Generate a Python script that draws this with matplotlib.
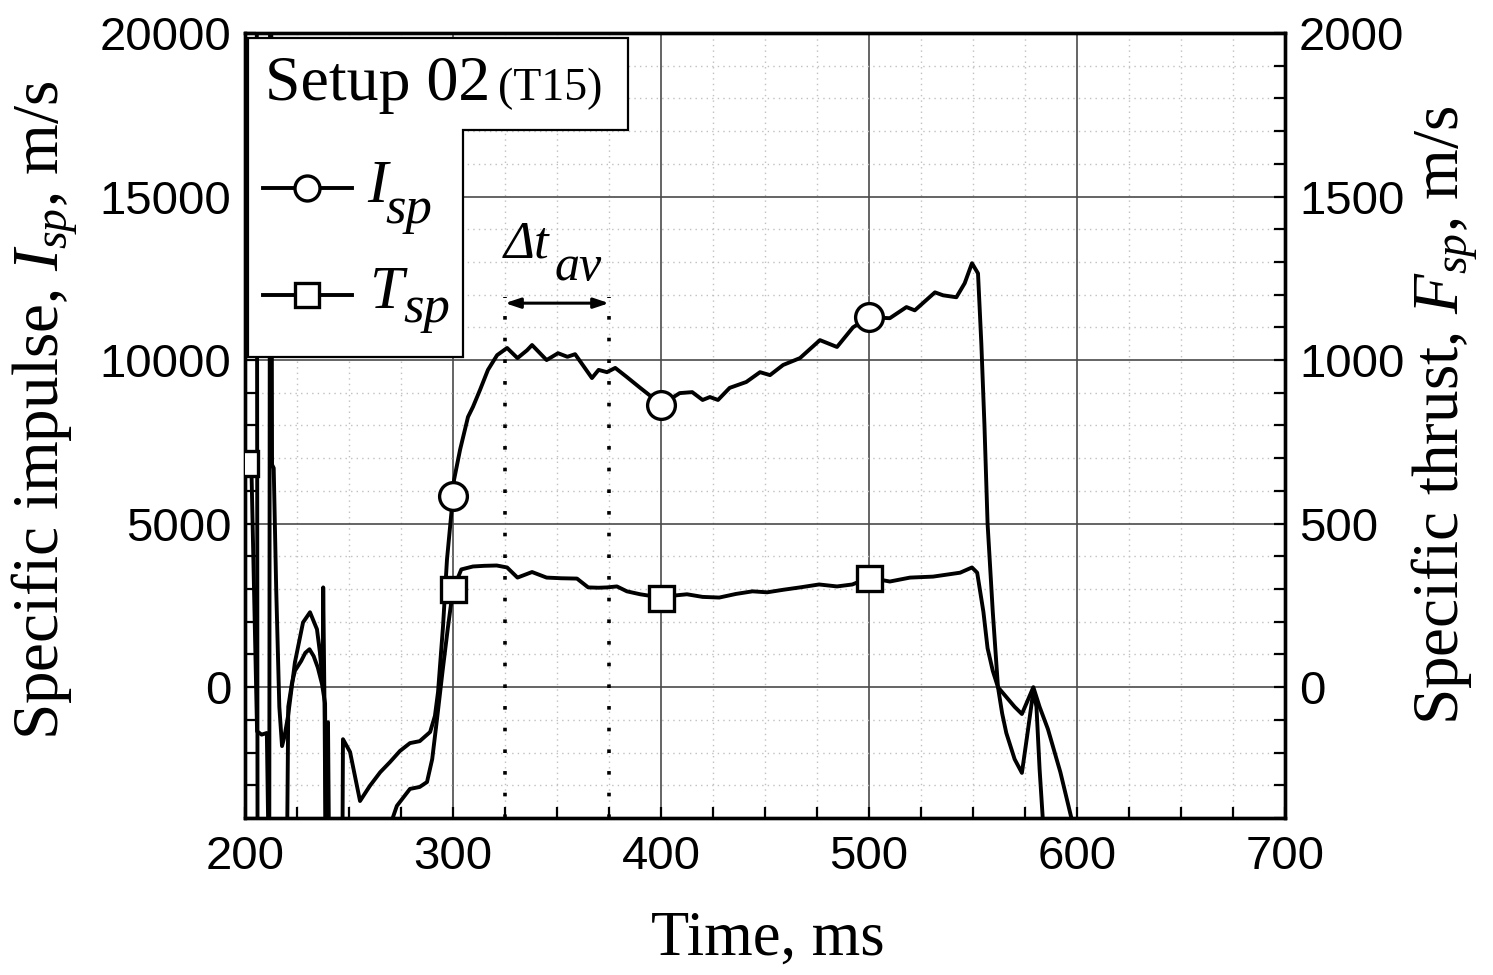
import matplotlib

matplotlib.use("Agg")
import matplotlib.pyplot as plt
from matplotlib.patches import Polygon
from matplotlib.lines import Line2D
from matplotlib.ticker import MultipleLocator

plt.rcParams["font.family"] = ["Liberation Serif", "DejaVu Serif"]
plt.rcParams["mathtext.fontset"] = "custom"
plt.rcParams["mathtext.rm"] = "Liberation Serif"
plt.rcParams["mathtext.it"] = "Liberation Serif:italic"

# specific impulse, m/s (left axis)
isp_time = [200, 205.6, 206.1, 211.6, 212.1, 212.5, 213, 213.8, 215, 216.5, 217.8, 219, 220.7,
            224, 227.9, 231.25, 234.6, 236, 237.3, 237.6, 238.3, 239, 239.9, 240.8, 246.6, 247.1,
            250.5, 255.3, 260, 265, 269.7, 274.5, 279.3, 284, 289, 291.3, 292.8, 295.2, 297.1,
            300, 300.5, 303.4, 307.2, 309.6, 313, 316.8, 321.2, 326, 331, 335.6, 338, 345, 350.5,
            355, 358.7, 366.8, 370, 374, 378, 383.6, 390, 395, 400, 409, 415, 420, 423.5, 427.4,
            433, 441, 447.6, 452.4, 458.7, 466.8, 476.4, 484.6, 492.3, 500, 510, 518, 522, 531.7,
            535.6, 542, 546, 549.5, 552.4, 554, 555.5, 557, 559.5, 562, 564, 566, 570, 573.5, 576,
            579, 580.5, 582, 583.6, 586]
isp_value = [25000, 25000, -10000, -10000, 25000, 25000, 6800, 6700, 3000, -600, -1800, -1500, -880,
             760, 1980, 2290, 1770, 1070, 150, 3050, -1000, -8000, -1070, -8000, -8000, -1590,
             -1980, -3480, -3020, -2600, -2290, -1950, -1710, -1650, -1370, -880, -150, 1860, 3900,
             5850, 6340, 7260, 8260, 8570, 9090, 9700, 10150, 10370, 10060, 10300, 10460, 10000, 10210,
             10100, 10180, 9450, 9700, 9630, 9760, 9480, 9150, 8900, 8630, 8990, 9020, 8780, 8870, 8780,
             9150, 9330, 9630, 9540, 9850, 10060, 10610, 10400, 11000, 11310, 11280, 11620, 11520, 12070,
             11980, 11920, 12350, 12960, 12650, 10500, 8000, 5000, 2300, 0, -800, -1400, -2200, -2620, -1500,
             -120, -600, -2500, -4080, -7000]

# specific thrust, m/s (right axis)
tsp_time = [200, 203, 205.8, 208, 210.5, 212, 219.8, 220.8, 222.5, 224, 227, 229, 231, 233, 235,
            237, 238.5, 239.2, 270.5, 271, 273, 279.3, 284, 287.5, 290, 292.3, 295, 297.5,
            300, 304, 309.6, 315, 321, 326, 331, 338, 345, 352, 359.6, 365, 370, 374, 378.8,
            383.6, 390, 400, 406, 412.5, 420, 428, 436, 444, 451, 459, 466.8, 476, 484.6, 492,
            500, 510, 519.7, 530.8, 543.8, 549.5, 552, 555, 557, 559.5, 562, 566, 570, 573.5,
            577, 579, 582, 586, 592, 597.6, 600]
tsp_value = [686, 695, -135, -145, -140, -800, -800, -60, 10, 50, 80, 105, 116, 95, 60,
             10, -50, -800, -800, -400, -363, -311, -305, -290, -220, -98, 50, 180,
             299, 360, 369, 371, 372, 366, 335, 352, 335, 333, 332, 305, 304, 305, 308,
             293, 284, 274, 280, 284, 276, 274, 285, 293, 290, 298, 305, 314, 308, 314,
             335, 323, 335, 338, 350, 366, 350, 230, 119, 50, 0, -30, -60, -82,
             -30, 0, -60, -128, -260, -408, -500]

marker_times = [200, 300, 400, 500]
avg_window = [325, 375]

fig = plt.figure(figsize=(14.93, 9.75), dpi=100)
ax = fig.add_axes([0.1641, 0.1610, 0.6966, 0.8052])
ax2 = ax.twinx()

line_kw = dict(color="black", lw=2.8, markeredgewidth=2.4,
               markerfacecolor="white", markeredgecolor="black")
isp_marks = [i for i, t in enumerate(isp_time) if t in marker_times]
tsp_marks = [i for i, t in enumerate(tsp_time) if t in marker_times]
ax.plot(isp_time, isp_value, marker="o", markersize=20, markevery=isp_marks, zorder=5, **line_kw)
ax2.plot(tsp_time, tsp_value, marker="s", markersize=18, markevery=tsp_marks, zorder=5, **line_kw)

ax.set_xlim(200, 700)
ax.set_ylim(-4000, 20000)
ax2.set_ylim(-400, 2000)

ax.xaxis.set_major_locator(MultipleLocator(100))
ax.xaxis.set_minor_locator(MultipleLocator(25))
ax.set_yticks([0, 5000, 10000, 15000, 20000])
ax.yaxis.set_minor_locator(MultipleLocator(1000))
ax2.set_yticks([0, 500, 1000, 1500, 2000])
ax2.yaxis.set_minor_locator(MultipleLocator(100))

ax.grid(which="major", color="#4a4a4a", lw=1.2, zorder=0)
ax.grid(which="minor", color="#c0c0c0", lw=1.0, ls=(0, (1, 3)), zorder=0)
ax.set_axisbelow(True)

for a in (ax, ax2):
    a.tick_params(which="both", direction="in", length=8, width=1.6)
    for s in a.spines.values():
        s.set_linewidth(2.4)
ax.tick_params(axis="x", which="major", pad=12, labelsize=34)
ax.tick_params(axis="y", which="major", pad=10, labelsize=34)
ax2.tick_params(axis="y", which="major", pad=10, labelsize=34)
for lab in ax.get_xticklabels() + ax.get_yticklabels() + ax2.get_yticklabels():
    lab.set_family(["Liberation Sans", "DejaVu Sans"])

fig.text(0.030, 0.579, r"Specific impulse, $I_{sp}$, m/s", rotation=90,
         ha="center", va="center", fontsize=47)
fig.text(0.968, 0.574, r"Specific thrust, $F_{sp}$, m/s", rotation=90,
         ha="center", va="center", fontsize=47)
fig.text(0.514, 0.036, "Time, ms", ha="center", va="center", fontsize=45)

# averaging window
ax.vlines(avg_window, -4000, 11920, colors="black", lw=2.6, ls=(0, (1, 5)), zorder=4)
ax.annotate("", xy=(avg_window[1], 11740), xytext=(avg_window[0], 11740),
            arrowprops=dict(arrowstyle="<|-|>,head_length=0.9,head_width=0.3",
                            color="black", lw=2.2, shrinkA=0, shrinkB=0), zorder=6)
ax.text(324.5, 13150, "\u0394t", fontsize=38, style="italic", ha="left", va="baseline")
ax.text(349, 12450, "av", fontsize=36, style="italic", ha="left", va="baseline")

# legend box
tr = ax2.transAxes
box = Polygon([(0.0029, 0.9936), (0.3683, 0.9936), (0.3683, 0.8764), (0.2096, 0.8764),
               (0.2096, 0.5873), (0.0029, 0.5873)], closed=True, facecolor="white",
              edgecolor="black", lw=1.6, transform=tr, zorder=10)
ax2.add_patch(box)
ax2.text(0.0192, 0.9146, "Setup 02", fontsize=46, transform=tr, zorder=11, va="baseline")
ax2.text(0.2433, 0.9146, "(T15)", fontsize=33, transform=tr, zorder=11, va="baseline")
ax2.add_line(Line2D([0.0173, 0.0596, 0.1029], [0.8025] * 3, marker="o", markersize=18,
                    markevery=[1], transform=tr, zorder=11, **line_kw))
ax2.add_line(Line2D([0.0173, 0.0596, 0.1029], [0.6662] * 3, marker="s", markersize=17,
                    markevery=[1], transform=tr, zorder=11, **line_kw))
ax2.text(0.118, 0.7847, "I", fontsize=44, style="italic", transform=tr, zorder=11, va="baseline")
ax2.text(0.1346, 0.758, "sp", fontsize=38, style="italic", transform=tr, zorder=11, va="baseline")
ax2.text(0.1202, 0.6497, "T", fontsize=44, style="italic", transform=tr, zorder=11, va="baseline")
ax2.text(0.152, 0.632, "sp", fontsize=38, style="italic", transform=tr, zorder=11, va="baseline")

fig.savefig("out.png", dpi=100)
